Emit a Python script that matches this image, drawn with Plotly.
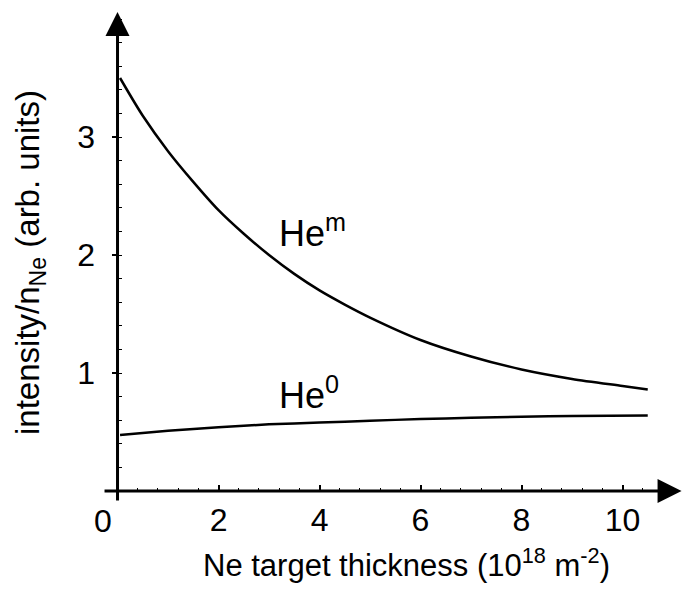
import plotly.graph_objects as go

# data
hem_x = [0.05, 0.5, 1.0, 1.5, 2.0, 2.5, 3.0, 3.5, 4.0, 4.5, 5.0, 6.0, 7.0, 8.0, 9.0, 10.0, 10.5]
hem_y = [3.50, 3.18, 2.88, 2.62, 2.38, 2.18, 2.00, 1.84, 1.70, 1.58, 1.47, 1.28, 1.14, 1.03, 0.95, 0.89, 0.86]
he0_x = [0.05, 1.0, 2.0, 3.0, 4.0, 5.0, 6.0, 7.0, 8.0, 9.0, 10.5]
he0_y = [0.475, 0.51, 0.54, 0.565, 0.58, 0.595, 0.61, 0.62, 0.63, 0.635, 0.64]
x_ticks = [2, 4, 6, 8, 10]
y_ticks = [1, 2, 3]

FONT = "Liberation Sans, Arial, Helvetica, sans-serif"
L, R, T, B = 100, 0, 0, 80
W, H = 683, 589
xr = [-0.347, 11.198]
yr = [-0.1525, 4.161]

fig = go.Figure()
fig.add_trace(go.Scatter(x=hem_x, y=hem_y, mode="lines", line=dict(color="black", width=2.5, shape="spline", smoothing=0.8), showlegend=False))
fig.add_trace(go.Scatter(x=he0_x, y=he0_y, mode="lines", line=dict(color="black", width=2.5, shape="spline", smoothing=0.8), showlegend=False))

fig.update_layout(
    width=W, height=H, margin=dict(l=L, r=R, t=T, b=B),
    paper_bgcolor="white", plot_bgcolor="white",
    font=dict(family=FONT, color="black", size=32),
    xaxis=dict(range=xr, showgrid=False, zeroline=False, showline=False,
               anchor="free", position=18 / 509,
               tickvals=x_ticks, ticktext=[str(v) for v in x_ticks],
               ticks="inside", ticklen=6, tickwidth=2, tickcolor="black",
               ticklabelstandoff=7, tickfont=dict(size=32),
               minor=dict(dtick=0.4, tick0=0, ticks="inside", ticklen=3, tickwidth=1.2, tickcolor="black", showgrid=False)),
    yaxis=dict(range=yr, showgrid=False, zeroline=False, showline=False,
               anchor="free", position=17.5 / 583,
               tickvals=y_ticks, ticktext=[str(v) for v in y_ticks],
               ticks="outside", ticklen=6, tickwidth=2, tickcolor="black",
               ticklabelstandoff=10, tickfont=dict(size=32),
               minor=dict(dtick=0.2, tick0=0, ticks="inside", ticklen=3, tickwidth=1.2, tickcolor="black", showgrid=False)),
)

# axis lines with arrowheads
fig.add_annotation(x=11.17, y=0, ax=-0.287, ay=0, xref="x", yref="y", axref="x", ayref="y",
                   text="", showarrow=True, arrowhead=2, arrowsize=1.6, arrowwidth=3, arrowcolor="black")
fig.add_annotation(x=0, y=4.06, ax=0, ay=-0.093, xref="x", yref="y", axref="x", ayref="y",
                   text="", showarrow=True, arrowhead=2, arrowsize=1.6, arrowwidth=3, arrowcolor="black")

# "0" label on x axis
fig.add_annotation(x=-0.28, y=0, xref="x", yref="y", text="0", showarrow=False,
                   yanchor="top", yshift=-10, font=dict(size=32))

# curve labels
fig.add_annotation(x=3.16, y=2.2, xref="x", yref="y", text="He<sup>m</sup>", showarrow=False,
                   xanchor="left", yanchor="middle", font=dict(size=36))
fig.add_annotation(x=3.16, y=0.834, xref="x", yref="y", text="He<sup>0</sup>", showarrow=False,
                   xanchor="left", yanchor="middle", font=dict(size=36))

# axis titles
fig.add_annotation(x=(406 - L) / 583, y=(589 - 563 - B) / 509, xref="paper", yref="paper",
                   text="Ne target thickness (10<sup>18</sup> m<sup>-2</sup>)", showarrow=False,
                   xanchor="center", yanchor="middle", font=dict(size=31))
fig.add_annotation(x=(30 - L) / 583, y=(509 - 263) / 509, xref="paper", yref="paper",
                   text="intensity/n<sub>Ne</sub> (arb. units)", showarrow=False, textangle=-90,
                   xanchor="center", yanchor="middle", font=dict(size=33))

fig.write_html("out.html")
